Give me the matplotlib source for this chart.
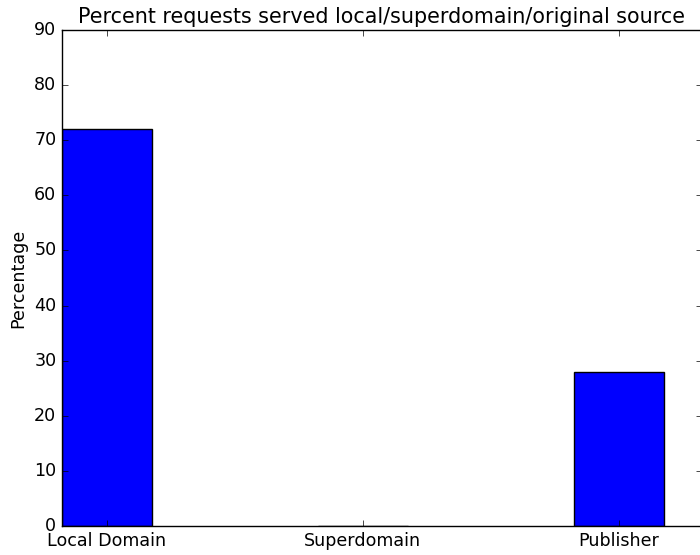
import numpy as np
import matplotlib
matplotlib.use('Agg')
import matplotlib.pyplot as plt

plt.style.use('classic')

categories = ['Local Domain', 'Superdomain', 'Publisher']
percentages = [72.0, 0.0, 28.0]

width = 0.35
ind = np.arange(len(categories))

fig = plt.figure(figsize=(7.0, 5.55), dpi=100)
ax = fig.add_axes([62/700., 1 - 526/555., 640/700., 496/555.])

ax.bar(ind, percentages, width, color='b', align='edge')

ax.set_xticks(ind + width / 2)
ax.set_xticklabels(categories)
ax.tick_params(labelsize=12.6)
ax.set_xlim(0, 2.5)
ax.set_ylim(0, 90)
ax.set_ylabel('Percentage', fontsize=12.6)
ax.set_title('Percent requests served local/superdomain/original source', fontsize=14.9)

fig.savefig('out.png', dpi=100)
